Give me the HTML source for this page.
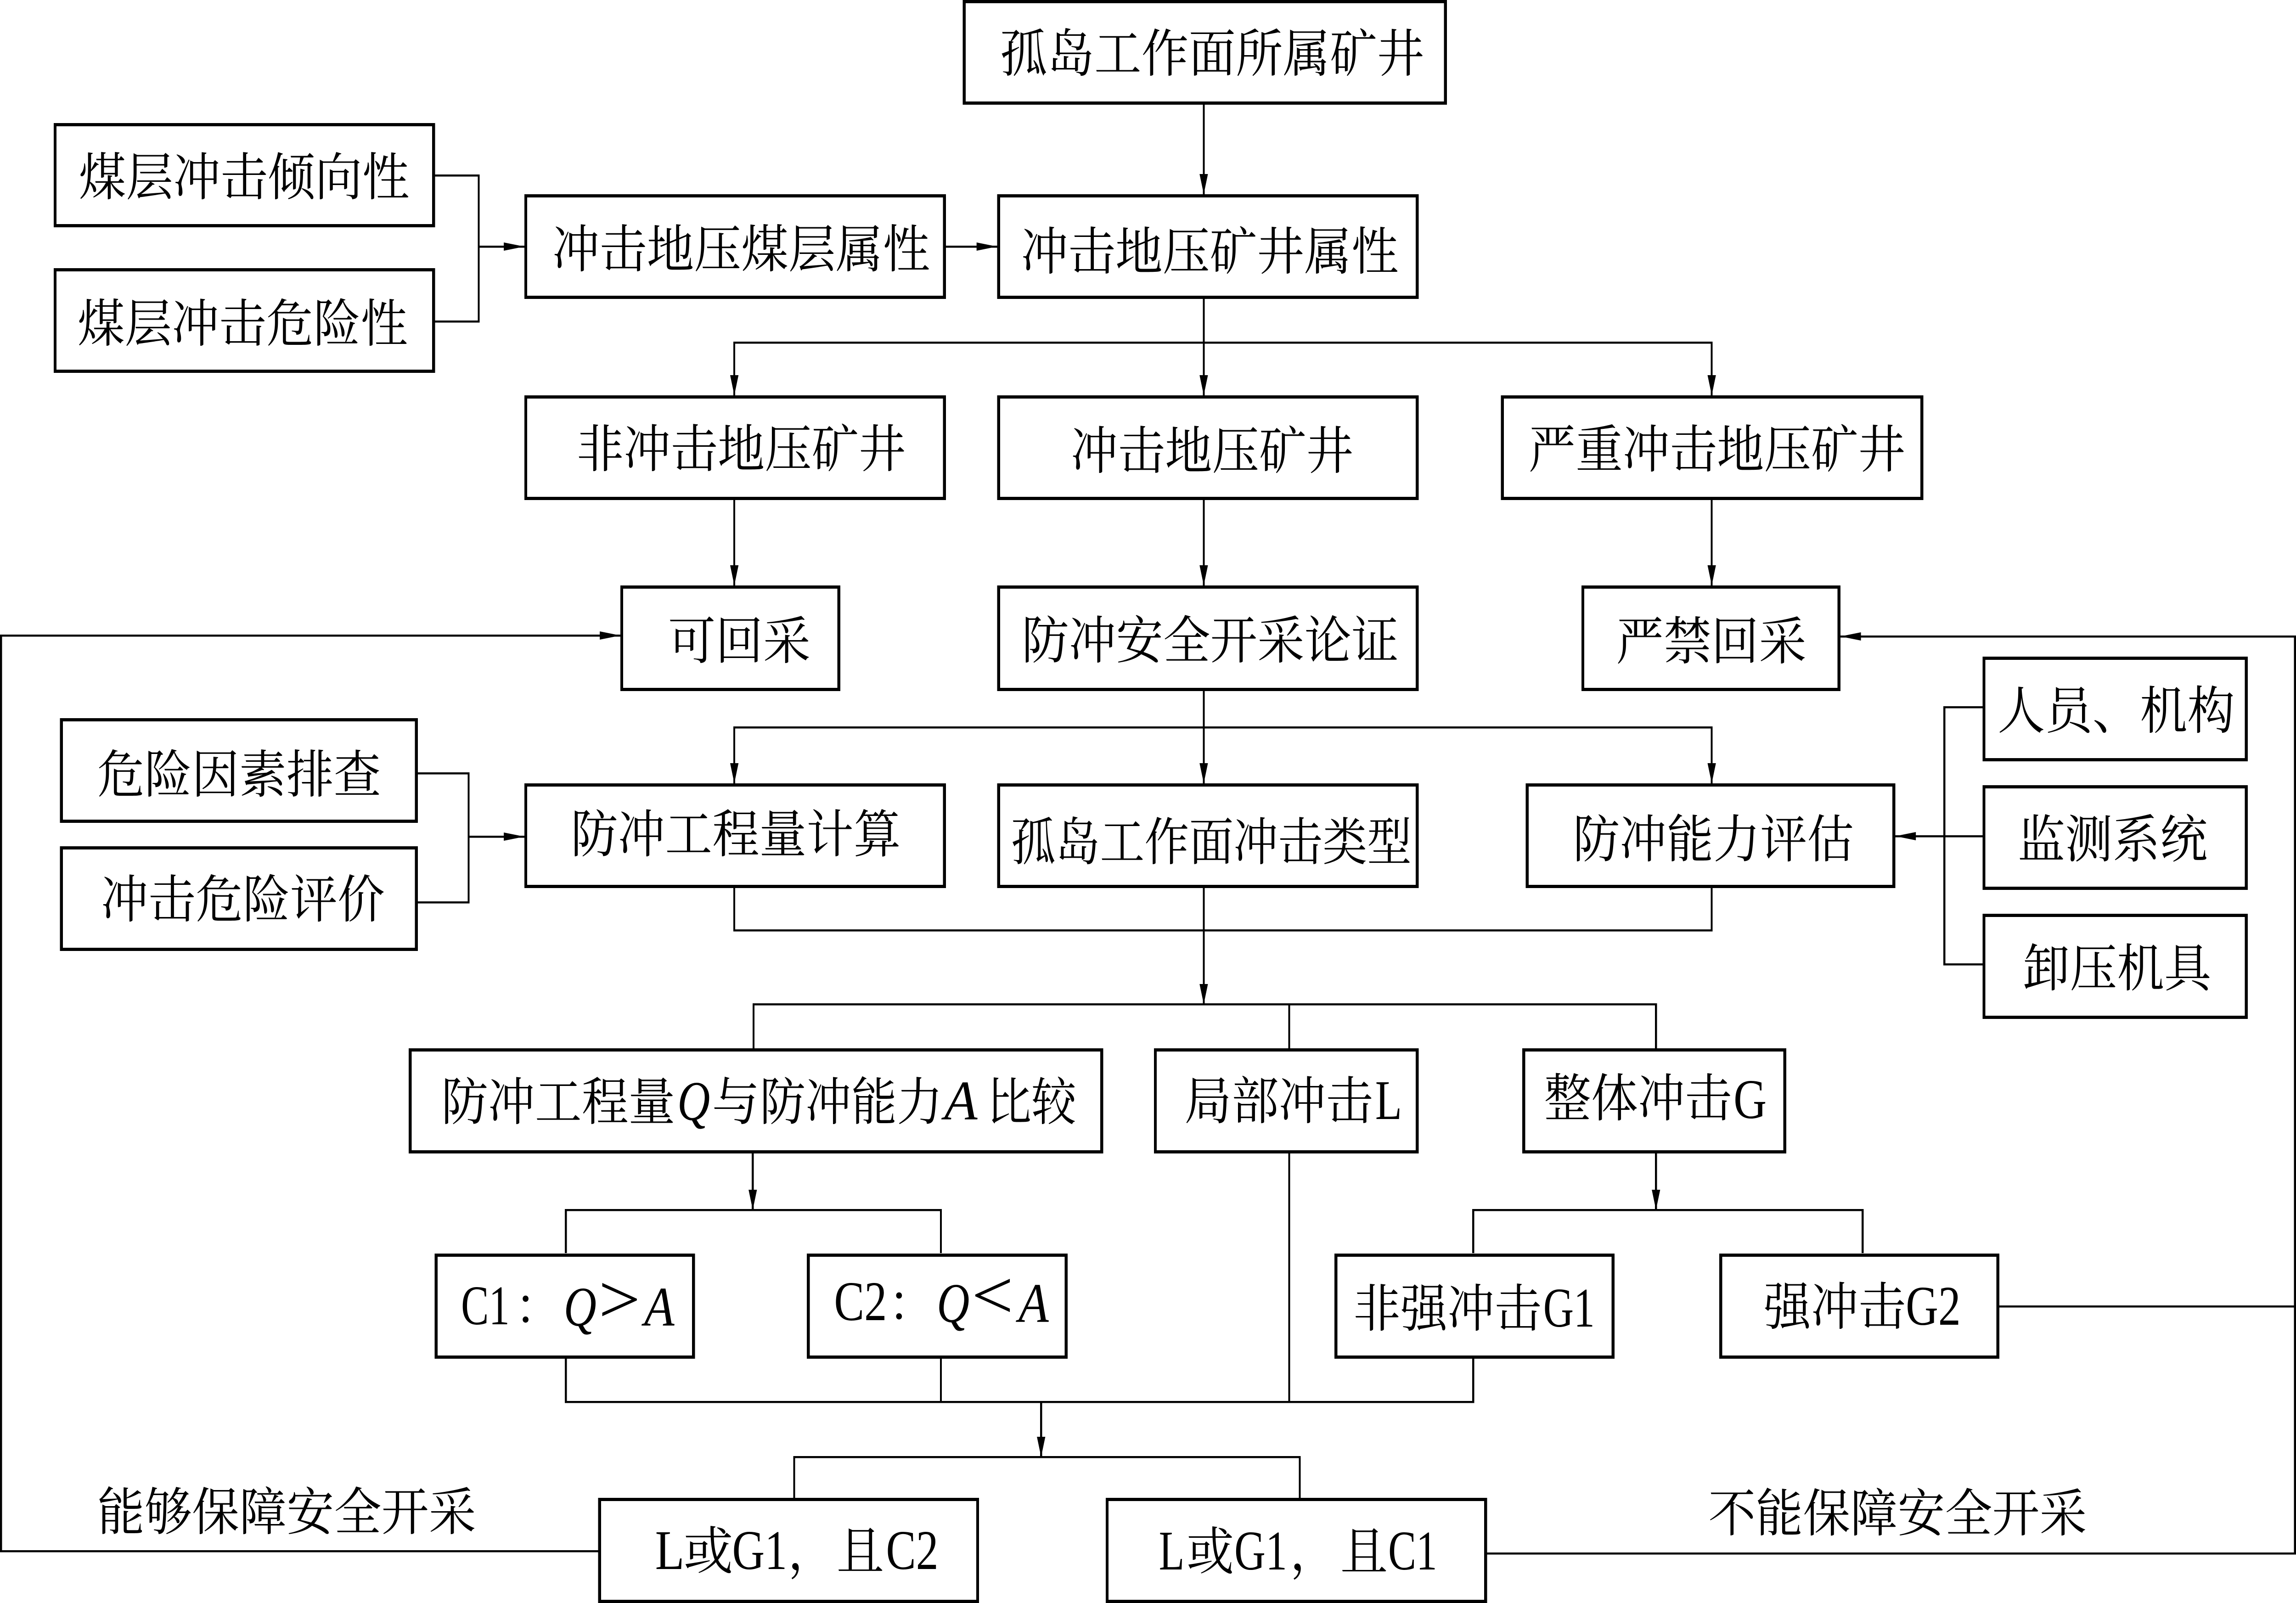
<!DOCTYPE html>
<html lang="zh"><head><meta charset="utf-8"><style>
html,body{margin:0;padding:0;background:#fff;width:100%;height:100%;overflow:hidden}
svg{display:block;width:100vw;height:100vh}
.b{fill:#fff;stroke:#000;stroke-width:7}
.l{fill:none;stroke:#000;stroke-width:4.5}
text{font-family:"Noto Serif CJK SC","Liberation Serif",serif;font-size:112px;fill:#000}
.e{font-family:"Liberation Serif",serif;font-size:122px}
.i{font-family:"Liberation Serif",serif;font-size:122px;font-style:italic}
</style></head><body>
<svg xmlns="http://www.w3.org/2000/svg" viewBox="0 0 5478 3491" preserveAspectRatio="none">
<g class="l" shape-rendering="crispEdges">
<path d="M2872 228V423M2872 651V861M1752 861V746H4084V861M1752 1089V1275M2872 1089V1275M4084 1089V1275"/>
<path d="M1038 382H1142V700H1038M1142 537H1251M2257 537H2379"/>
<path d="M2872 1505V2187M1752 1706V1584H4084V1706M1752 1934V2026H4084V1934"/>
<path d="M997 1684H1118V1965H997M1118 1822H1251"/>
<path d="M4730 1540H4639V2100H4730M4730 1821H4522"/>
<path d="M1798 2283V2187H3951V2283M3076 2187V2283"/>
<path d="M1480 1384H2.5V3378H1427M4391 1386H5475.5V3383H3548M4770 2845H5475.5"/>
<path d="M1796 2512V2635M1350 2729V2635H2245V2729M3951 2512V2635M3515 2729V2635H4444V2729"/>
<path d="M1350 2959V3053H3515V2959M2245 2959V3053M3076 2512V3053M2484 3053V3173M1895 3262V3173H3101V3262"/>
</g>
<g fill="#000">
<polygon points="2872,423 2862,379 2882,379"/>
<polygon points="2872,861 2862,817 2882,817"/>
<polygon points="1752,861 1742,817 1762,817"/>
<polygon points="4084,861 4074,817 4094,817"/>
<polygon points="1752,1275 1742,1231 1762,1231"/>
<polygon points="2872,1275 2862,1231 2882,1231"/>
<polygon points="4084,1275 4074,1231 4094,1231"/>
<polygon points="1752,1706 1742,1662 1762,1662"/>
<polygon points="2872,1706 2862,1662 2882,1662"/>
<polygon points="4084,1706 4074,1662 4094,1662"/>
<polygon points="2872,2187 2862,2143 2882,2143"/>
<polygon points="1796,2635 1786,2591 1806,2591"/>
<polygon points="3951,2635 3941,2591 3961,2591"/>
<polygon points="2484,3173 2474,3129 2494,3129"/>
<polygon points="1251,537 1202,528 1202,546"/>
<polygon points="2379,537 2330,528 2330,546"/>
<polygon points="1251,1822 1202,1813 1202,1831"/>
<polygon points="1480,1384 1431,1375 1431,1393"/>
<polygon points="4391,1386 4440,1377 4440,1395"/>
<polygon points="4522,1821 4571,1812 4571,1830"/>
</g>
<g class="b" shape-rendering="crispEdges">
<rect x="2300.500" y="3.500" width="1148" height="221"/>
<rect x="131.500" y="271.500" width="903" height="220"/>
<rect x="131.500" y="587.500" width="903" height="221"/>
<rect x="1254.500" y="426.500" width="999" height="221"/>
<rect x="2382.500" y="426.500" width="999" height="221"/>
<rect x="1254.500" y="864.500" width="999" height="221"/>
<rect x="2382.500" y="864.500" width="999" height="221"/>
<rect x="3584.500" y="864.500" width="1001" height="221"/>
<rect x="1483.500" y="1278.500" width="518" height="223"/>
<rect x="2382.500" y="1278.500" width="999" height="223"/>
<rect x="3776.500" y="1278.500" width="611" height="223"/>
<rect x="146.500" y="1567.500" width="847" height="221"/>
<rect x="146.500" y="1846.500" width="847" height="221"/>
<rect x="1254.500" y="1709.500" width="999" height="221"/>
<rect x="2382.500" y="1709.500" width="999" height="221"/>
<rect x="3643.500" y="1709.500" width="875" height="221"/>
<rect x="4733.500" y="1433.500" width="626" height="221"/>
<rect x="4733.500" y="1713.500" width="626" height="221"/>
<rect x="4733.500" y="1993.500" width="626" height="222"/>
<rect x="978.500" y="2286.500" width="1650" height="222"/>
<rect x="2756.500" y="2286.500" width="625" height="222"/>
<rect x="3635.500" y="2286.500" width="623" height="222"/>
<rect x="1040.500" y="2733.500" width="614" height="222"/>
<rect x="1928.500" y="2733.500" width="615" height="222"/>
<rect x="3187.500" y="2733.500" width="661" height="222"/>
<rect x="4105.500" y="2733.500" width="661" height="222"/>
<rect x="1430.500" y="3265.500" width="902" height="222"/>
<rect x="2641.500" y="3265.500" width="903" height="222"/>
</g>
<g>
<text x="2386" y="156" textLength="1012" lengthAdjust="spacingAndGlyphs">孤岛工作面所属矿井</text>
<text x="188" y="425" textLength="789" lengthAdjust="spacingAndGlyphs">煤层冲击倾向性</text>
<text x="185" y="744" textLength="788" lengthAdjust="spacingAndGlyphs">煤层冲击危险性</text>
<text x="1318" y="582" textLength="901" lengthAdjust="spacingAndGlyphs">冲击地压煤层属性</text>
<text x="2436" y="587" textLength="901" lengthAdjust="spacingAndGlyphs">冲击地压矿井属性</text>
<text x="1376" y="1017" textLength="785" lengthAdjust="spacingAndGlyphs">非冲击地压矿井</text>
<text x="2555" y="1021" textLength="674" lengthAdjust="spacingAndGlyphs">冲击地压矿井</text>
<text x="3647" y="1018" textLength="899" lengthAdjust="spacingAndGlyphs">严重冲击地压矿井</text>
<text x="1594" y="1435" textLength="340" lengthAdjust="spacingAndGlyphs">可回采</text>
<text x="2438" y="1434" textLength="899" lengthAdjust="spacingAndGlyphs">防冲安全开采论证</text>
<text x="3856" y="1436" textLength="454" lengthAdjust="spacingAndGlyphs">严禁回采</text>
<text x="232" y="1726" textLength="677" lengthAdjust="spacingAndGlyphs">危险因素排查</text>
<text x="241" y="1998" textLength="677" lengthAdjust="spacingAndGlyphs">冲击危险评价</text>
<text x="1362" y="1856" textLength="787" lengthAdjust="spacingAndGlyphs">防冲工程量计算</text>
<text x="2412" y="1873" textLength="956" lengthAdjust="spacingAndGlyphs">孤岛工作面冲击类型</text>
<text x="3753" y="1867" textLength="670" lengthAdjust="spacingAndGlyphs">防冲能力评估</text>
<text x="4766" y="1587" textLength="566" lengthAdjust="spacingAndGlyphs">人员、机构</text>
<text x="4814" y="1867" textLength="453" lengthAdjust="spacingAndGlyphs">监测系统</text>
<text x="4826" y="2148" textLength="450" lengthAdjust="spacingAndGlyphs">卸压机具</text>
<text x="1053" y="2439" textLength="558" lengthAdjust="spacingAndGlyphs">防冲工程量</text>
<text class="i" x="1616" y="2439" textLength="78" lengthAdjust="spacingAndGlyphs">Q</text>
<text x="1699" y="2439" textLength="113" lengthAdjust="spacingAndGlyphs">与</text>
<text x="1813" y="2439" textLength="436" lengthAdjust="spacingAndGlyphs">防冲能力</text>
<text class="i" x="2253" y="2438" textLength="79" lengthAdjust="spacingAndGlyphs">A</text>
<text x="2354" y="2439" textLength="214" lengthAdjust="spacingAndGlyphs">比较</text>
<text x="2826" y="2437" textLength="450" lengthAdjust="spacingAndGlyphs">局部冲击</text>
<text class="e" x="3281" y="2437" textLength="64" lengthAdjust="spacingAndGlyphs">L</text>
<text x="3684" y="2431" textLength="448" lengthAdjust="spacingAndGlyphs">整体冲击</text>
<text class="e" x="4136" y="2435" textLength="79" lengthAdjust="spacingAndGlyphs">G</text>
<text class="e" x="1100" y="2884" textLength="116" lengthAdjust="spacingAndGlyphs">C1</text>
<text x="1228" y="2884">：</text>
<text class="i" x="1345" y="2887" textLength="78" lengthAdjust="spacingAndGlyphs">Q</text>
<text class="e" x="1428" y="2880" textLength="100" lengthAdjust="spacingAndGlyphs" style="font-size:150px">&gt;</text>
<text class="i" x="1537" y="2887" textLength="72" lengthAdjust="spacingAndGlyphs">A</text>
<text class="e" x="1990" y="2875" textLength="126" lengthAdjust="spacingAndGlyphs">C2</text>
<text x="2119" y="2877">：</text>
<text class="i" x="2235" y="2879" textLength="78" lengthAdjust="spacingAndGlyphs">Q</text>
<text class="e" x="2318" y="2871" textLength="100" lengthAdjust="spacingAndGlyphs" style="font-size:150px">&lt;</text>
<text class="i" x="2430" y="2879" textLength="72" lengthAdjust="spacingAndGlyphs">A</text>
<text x="3229" y="2889" textLength="449" lengthAdjust="spacingAndGlyphs">非强冲击</text>
<text class="e" x="3682" y="2889" textLength="123" lengthAdjust="spacingAndGlyphs">G1</text>
<text x="4208" y="2885" textLength="339" lengthAdjust="spacingAndGlyphs">强冲击</text>
<text class="e" x="4547" y="2885" textLength="131" lengthAdjust="spacingAndGlyphs">G2</text>
<text class="e" x="1563" y="3417" textLength="70" lengthAdjust="spacingAndGlyphs">L</text>
<text x="1631" y="3417" textLength="118" lengthAdjust="spacingAndGlyphs">或</text>
<text class="e" x="1747" y="3417" textLength="131" lengthAdjust="spacingAndGlyphs">G1</text>
<text x="1880" y="3417">，</text>
<text x="1996" y="3417" textLength="113" lengthAdjust="spacingAndGlyphs">且</text>
<text class="e" x="2114" y="3417" textLength="125" lengthAdjust="spacingAndGlyphs">C2</text>
<text class="e" x="2765" y="3418" textLength="61" lengthAdjust="spacingAndGlyphs">L</text>
<text x="2831" y="3418" textLength="113" lengthAdjust="spacingAndGlyphs">或</text>
<text class="e" x="2945" y="3418" textLength="126" lengthAdjust="spacingAndGlyphs">G1</text>
<text x="3078" y="3418">，</text>
<text x="3198" y="3418" textLength="113" lengthAdjust="spacingAndGlyphs">且</text>
<text class="e" x="3312" y="3418" textLength="117" lengthAdjust="spacingAndGlyphs">C1</text>
<text x="232" y="3332" textLength="904" lengthAdjust="spacingAndGlyphs">能够保障安全开采</text>
<text x="4076" y="3335" textLength="903" lengthAdjust="spacingAndGlyphs">不能保障安全开采</text>
</g>
</svg>
</body></html>
